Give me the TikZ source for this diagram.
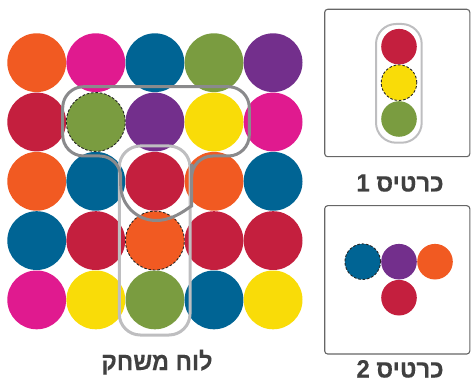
\documentclass[tikz,border=0pt]{standalone}
\usepackage{fontspec}
\setmainfont{Liberation Sans}
\newfontfamily\hebfont[Script=Hebrew, BoldFont={Liberation Sans Bold}, BoldFeatures={FakeBold=0.3}]{Liberation Sans}
\TeXXeTstate=1
\definecolor{or}{HTML}{F15A22}
\definecolor{ma}{HTML}{E01A8F}
\definecolor{bl}{HTML}{006494}
\definecolor{gr}{HTML}{7A9C40}
\definecolor{pu}{HTML}{732F8C}
\definecolor{cr}{HTML}{C41F3E}
\definecolor{ye}{HTML}{F9DC08}
\definecolor{darkline}{HTML}{8A8A8C}
\definecolor{lightline}{HTML}{BEBEC0}
\definecolor{boxline}{HTML}{666666}
\definecolor{txt}{HTML}{404040}
\tikzset{
  dot/.style={circle, inner sep=0pt, minimum size=58.8pt, fill=#1},
  sdot/.style={circle, inner sep=0pt, minimum size=35.6pt, fill=#1},
  dashring/.style={draw=black!85, line width=0.9pt, dash pattern=on 2.6pt off 1.8pt},
  card/.style={draw=boxline, line width=1.1pt, rounded corners=3pt},
  lbl/.style={text=txt, font=\hebfont\bfseries\fontsize{25}{28}\selectfont, inner sep=0pt, anchor=base}
}
\begin{document}
\begin{tikzpicture}[x=1pt,y=-1pt]
\useasboundingbox (0,0) rectangle (471,382);
% game board
\foreach \r/\cols in {1/{or,ma,bl,gr,pu},2/{cr,gr,pu,ye,ma},3/{or,bl,cr,or,bl},4/{bl,cr,or,cr,cr},5/{ma,ye,gr,bl,ye}}{
  \foreach \c [count=\k] in \cols {
    \node[dot=\c] (g-\r-\k) at ({36.7+59.1*(\k-1)},{62.7+59.3*(\r-1)}) {};
  }
}
\draw[dashring] (g-2-2.center) circle[radius=29.4pt];
\draw[dashring] (g-4-3.center) circle[radius=29.4pt];
% light gray vertical outline
\draw[lightline, line width=3pt, rounded corners=21pt] (119.3,146) rectangle (190,335);
% dark gray T outline
\draw[darkline, line width=3pt]
  (120.7,185) [rounded corners=21pt] -- (120.7,156) -- (62.7,156)
  -- (62.7,86.7) -- (249.3,86.7) -- (249.3,156)
  -- (191.7,156) -- (191.7,185) [sharp corners]
  .. controls (191.7,204.6) and (175.8,220.5) .. (156.2,220.5)
  .. controls (136.6,220.5) and (120.7,204.6) .. (120.7,185);
\node[lbl] (boardlbl) at (157,370) {\scalebox{0.94}[1]{\beginR לוח משחק\endR}};
% card 1
\draw[card] (324.7,9.3) rectangle (469.8,156.7);
\node[sdot=cr] (a1) at (399,46.7) {};
\node[sdot=ye] (a2) at (399,82.7) {};
\node[sdot=gr] (a3) at (399,119) {};
\draw[dashring] (a2.center) circle[radius=17.8pt];
\draw[lightline, line width=2pt, rounded corners=20pt] (376,24) rectangle (421.7,142.7);
\node[lbl] (card1lbl) at (400,191.5) {\scalebox{0.96}[1]{\beginR כרטיס 1\endR}};
% card 2
\draw[card] (324.7,205.7) rectangle (469.8,354);
\node[sdot=bl] (b1) at (362.7,261.7) {};
\node[sdot=pu] (b2) at (399,261.7) {};
\node[sdot=or] (b3) at (435,261.7) {};
\node[sdot=cr] (b4) at (399,297.7) {};
\draw[dashring] (b1.center) circle[radius=17.8pt];
\node[lbl] (card2lbl) at (400,377.5) {\scalebox{0.96}[1]{\beginR כרטיס 2\endR}};
\end{tikzpicture}
\end{document}
